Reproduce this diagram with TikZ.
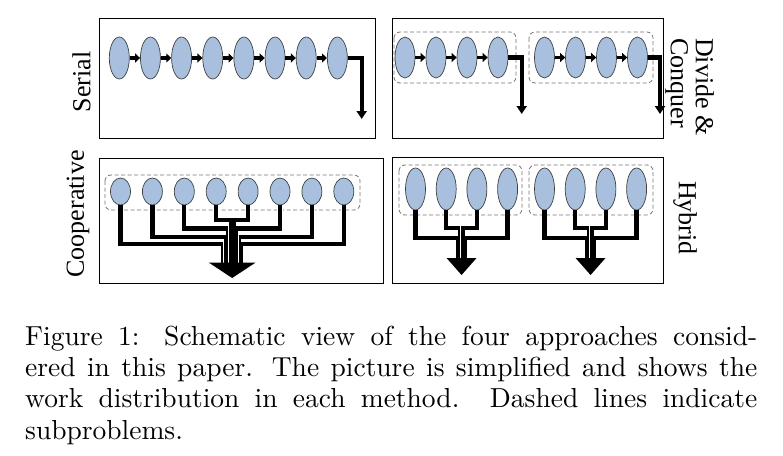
\documentclass[tikz,border=0pt]{standalone}
\usepackage{fontspec}
\usepackage{graphicx}
\newfontfamily\labfont{Liberation Serif}
\usetikzlibrary{shapes.geometric,arrows.meta}
\definecolor{cellblue}{RGB}{168,192,222}
\definecolor{dashgray}{RGB}{115,115,115}
\tikzset{
  cell/.style={ellipse, draw=black!75, line width=0.7pt, fill=cellblue,
    minimum width=20pt, minimum height=#1, inner sep=0pt},
  frame/.style={draw=black, line width=1pt},
  group/.style={draw=dashgray, dash pattern=on 4pt off 2.5pt, line width=0.8pt, rounded corners=6pt},
  flow/.style={line width=3.5pt, -{Triangle[length=5pt,width=9pt]}},
  exitflow/.style={line width=4.3pt, -{Triangle[length=8pt,width=10pt]}},
  casing/.style={white, line width=5.2pt},
  wire/.style={black, line width=4.3pt},
  lab/.style={font=\labfont\fontsize{26}{25}\selectfont, inner sep=0pt},
}
\begin{document}
\begin{tikzpicture}[x=1pt,y=-1pt]
\useasboundingbox (0,0) rectangle (783,455);

% ---------- frames ----------
\draw[frame] (99.5,18) rectangle (375,138.5);
\draw[frame] (392,18) rectangle (663,138.5);
\draw[frame] (99.5,158) rectangle (383,283);
\draw[frame] (392,157) rectangle (663,283);

% ---------- labels ----------
\node[lab, rotate=90] (lserial) at (81.5,82) {Serial};
\node[lab, rotate=90] (lcoop) at (78,214) {Cooperative};
\node[lab, rotate=-90, anchor=west, align=left] (ldc) at (689.5,38) {Divide \&\\Conquer};
\node[lab, rotate=-90] (lhyb) at (685,218) {Hybrid};

% ---------- Serial ----------
\foreach \i in {1,...,8} {
  \node[cell=42pt] (s\i) at ({119.3+31.15*(\i-1)},58) {};
}
\foreach \i [evaluate=\i as \j using int(\i+1)] in {1,...,7} {
  \draw[flow] (s\i.east) -- (s\j.west);
}
\coordinate (sEnd) at (361.7,119);
\draw[exitflow] (s8.east) -| (sEnd);

% ---------- Divide & Conquer ----------
\draw[group] (394,32) rectangle (516,83);
\draw[group] (529,32) rectangle (653,83);
\foreach \i/\x in {1/405,2/436,3/467,4/498,5/544.5,6/575.5,7/606.5,8/637.5} {
  \node[cell=41pt] (d\i) at (\x,57.5) {};
}
\foreach \i/\j in {1/2,2/3,3/4,5/6,6/7,7/8} {
  \draw[flow] (d\i.east) -- (d\j.west);
}
\coordinate (dEndA) at (521.7,114);
\coordinate (dEndB) at (660,114);
\draw[exitflow] (d4.east) -| (dEndA);
\draw[exitflow] (d8.east) -| (dEndB);

% ---------- Cooperative ----------
\draw[group] (105,175) rectangle (360,210);
\foreach \i in {1,...,8} {
  \node[cell=27pt] (c\i) at ({120.5+31.9*(\i-1)},191.5) {};
}
\def\ccx{232.15}
\foreach \i/\lv/\off in {1/244/-8.75, 8/244/8.75, 2/237/-6.25, 7/237/6.25,
                         3/228.5/-3.75, 6/228.5/3.75, 4/220/-1.25, 5/220/1.25} {
  \coordinate (ch\i) at (\ccx+\off,\lv);
  \coordinate (cb\i) at (\ccx+\off,264);
  \draw[casing] (c\i.south) |- (ch\i) -- (cb\i);
  \draw[wire] (c\i.south) |- (ch\i) -- (cb\i);
}
\coordinate (cL) at (\ccx-23.5,262.5);
\coordinate (cR) at (\ccx+23.5,262.5);
\coordinate (cT) at (\ccx,278);
\fill (cL) -- (cR) -- (cT) -- cycle;

% ---------- Hybrid ----------
\draw[group] (399,165) rectangle (522,215);
\draw[group] (529,165) rectangle (653,215);
\foreach \i/\x in {1/415.5,2/446.2,3/476.9,4/507.6,5/544.5,6/575.2,7/605.9,8/636.6} {
  \node[cell=42pt] (h\i) at (\x,189) {};
}
\foreach \i/\cx/\lv/\off in {1/461.55/238/-3.75, 4/461.55/238/3.75, 2/461.55/228/-1.25, 3/461.55/228/1.25,
                             5/590.55/238/-3.75, 8/590.55/238/3.75, 6/590.55/228/-1.25, 7/590.55/228/1.25} {
  \coordinate (hh\i) at (\cx+\off,\lv);
  \coordinate (hb\i) at (\cx+\off,259.5);
  \draw[casing] (h\i.south) |- (hh\i) -- (hb\i);
  \draw[wire] (h\i.south) |- (hh\i) -- (hb\i);
}
\foreach \n/\cx in {A/461.55,B/590.55} {
  \coordinate (hL\n) at (\cx-15,258);
  \coordinate (hR\n) at (\cx+15,258);
  \coordinate (hT\n) at (\cx,275);
  \fill (hL\n) -- (hR\n) -- (hT\n) -- cycle;
}

% ---------- caption ----------
\node[anchor=base west, inner sep=0pt] (cap) at (25,345) {\scalebox{2.75}{\vtop{\hsize=266.2pt \parindent=0pt
  \tolerance=10000 \hbadness=10000 \fontsize{10}{11.45}\selectfont
  Figure 1: Schematic view of the four approaches consid-\linebreak
  ered in this paper. The picture is simplified and shows the\linebreak
  work distribution in each method.  Dashed lines indicate\linebreak
  subproblems.\par}}};
\end{tikzpicture}
\end{document}
